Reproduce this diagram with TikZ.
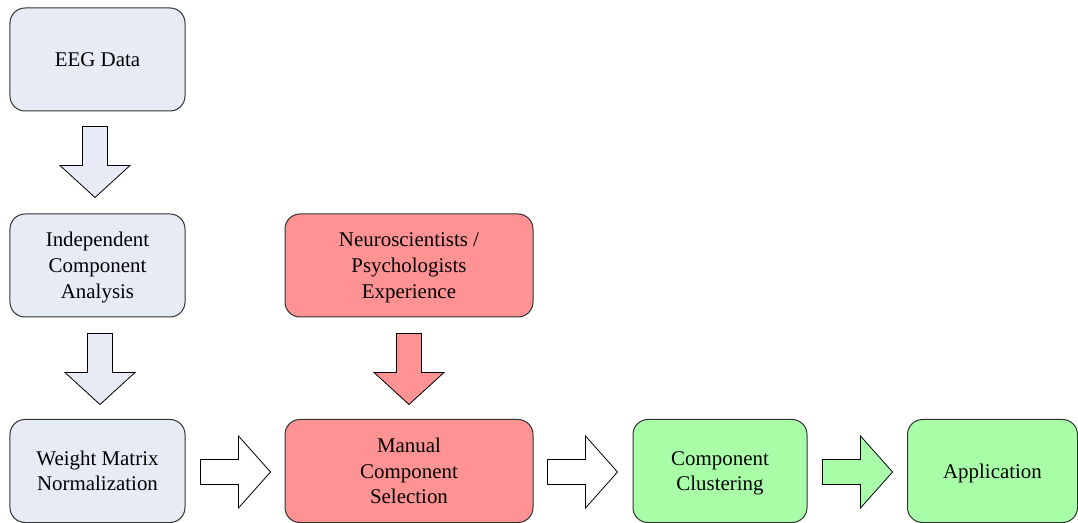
\documentclass[tikz,border=0pt]{standalone}
\usepackage{fontspec}
\setmainfont{Liberation Serif}
\usetikzlibrary{calc}
\newcommand\mytopstrut{\rule{0pt}{20bp}}
\newcommand\mybotstrut{\rule[-6bp]{0pt}{6bp}}
\definecolor{bluefill}{RGB}{230,235,246}
\definecolor{redfill}{RGB}{255,146,146}
\definecolor{greenfill}{RGB}{168,255,168}
\definecolor{boxline}{RGB}{50,50,50}
\tikzset{
  box/.style={draw=boxline, line width=1bp, rounded corners=15bp, inner sep=0pt,
    minimum height=103bp, align=center, font=\fontsize{21}{26}\selectfont},
  bluebox/.style={box, fill=bluefill, minimum width=175bp},
  redbox/.style={box, fill=redfill, minimum width=248bp},
  greenbox/.style={box, fill=greenfill},
  blockarrow/.style={draw=black, line width=0.8bp, line join=miter},
  darrow/.pic={\path[pic actions] (-12.5,0) -- (12.5,0) -- (12.5,39) -- (35,39) -- (0,71) -- (-35,39) -- (-12.5,39) -- cycle;},
  rarrow/.pic={\path[pic actions] (0,-12.5) -- (38,-12.5) -- (38,-36) -- (70,0) -- (38,36) -- (38,12.5) -- (0,12.5) -- cycle;}
}
\begin{document}
\begin{tikzpicture}[x=1bp,y=-1bp]
\useasboundingbox (0,0) rectangle (1078,523);
\node[bluebox] (eeg) at (97.5,59.5) {\mytopstrut EEG Data\mybotstrut};
\node[bluebox] (ica) at (97.5,265.5) {\mytopstrut Independent\\Component\\Analysis\mybotstrut};
\node[bluebox] (wmn) at (97.5,471) {\mytopstrut Weight Matrix\\Normalization\mybotstrut};
\node[redbox] (neuro) at (409,265.5) {\mytopstrut Neuroscientists /\\Psychologists\\Experience\mybotstrut};
\node[redbox] (manual) at (409,471) {\mytopstrut Manual\\Component\\Selection\mybotstrut};
\node[greenbox, minimum width=174bp] (clust) at (720,471) {\mytopstrut Component\\Clustering\mybotstrut};
\node[greenbox, minimum width=170bp] (app) at (992.5,471) {\mytopstrut Application\mybotstrut};

\pic[blockarrow, fill=bluefill] at ($(eeg.south)+(-2.5,15)$) {darrow};
\pic[blockarrow, fill=bluefill] at ($(ica.south)+(2.5,16)$) {darrow};
\pic[blockarrow, fill=redfill] at ($(neuro.south)+(0,16)$) {darrow};
\pic[blockarrow, fill=white] at ($(wmn.east)+(15,1)$) {rarrow};
\pic[blockarrow, fill=white] at ($(manual.east)+(14,1)$) {rarrow};
\pic[blockarrow, fill=greenfill] at ($(clust.east)+(15,1)$) {rarrow};
\end{tikzpicture}
\end{document}
